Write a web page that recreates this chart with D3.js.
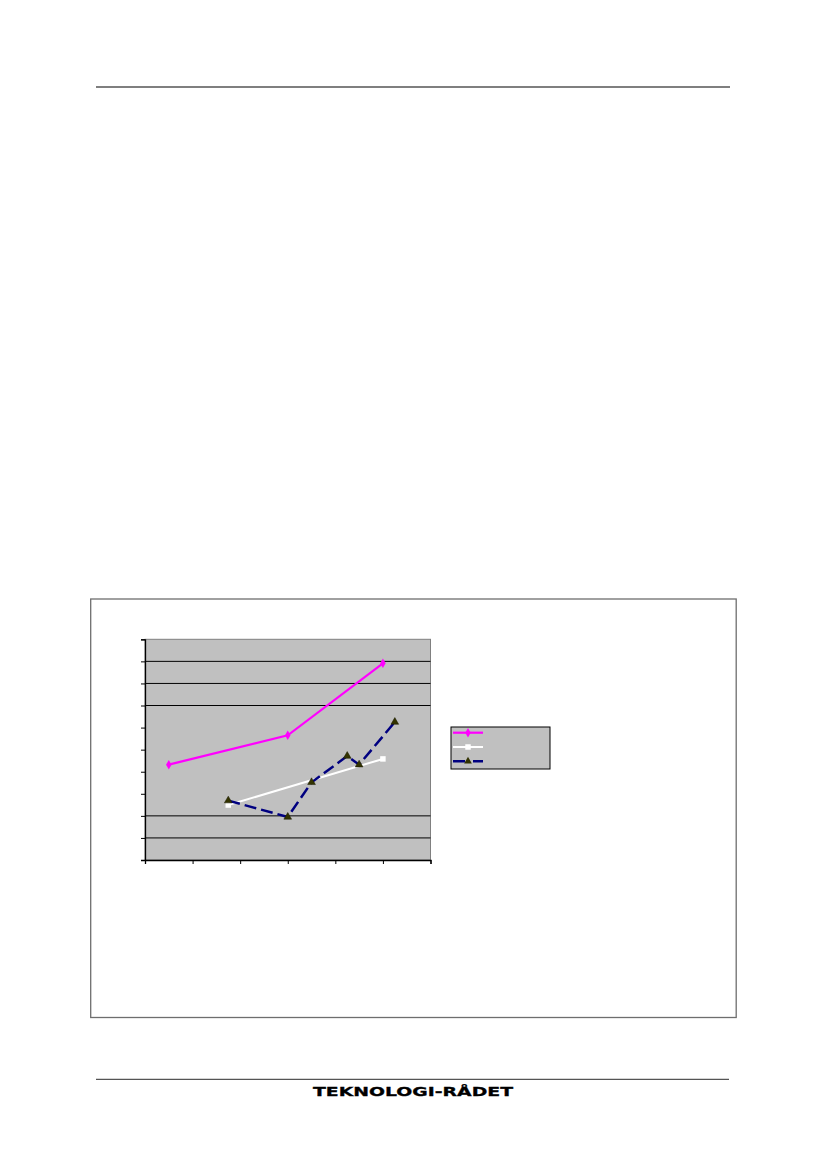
<!DOCTYPE html>
<html><head><meta charset="utf-8">
<script src="https://cdn.jsdelivr.net/npm/d3@7"></script>
<style>html,body{margin:0;padding:0;background:#fff;}svg{display:block;}</style>
</head><body>
<script>
// Data (x positions read as years, y as index values; chart shows no labels)
const seriesNames = ["Series A", "Series B", "Series C"];
const seriesAx = [1997, 2007, 2015];
const seriesAy = [43.2, 56.5, 89.1];
const seriesBx = [2002, 2015];
const seriesBy = [24.9, 45.8];
const seriesCx = [2002, 2007, 2009, 2012, 2013, 2016];
const seriesCy = [26.9, 19.5, 35.2, 47.1, 43.2, 62.5];
const xTicks = [1995, 1999, 2003, 2007, 2011, 2015, 2019];
const yTicks = [0, 10, 20, 30, 40, 50, 60, 70, 80, 90, 100];
const yGrid = [10, 20, 70, 80, 90];
const footerText = "TEKNOLOGI-RÅDET";

const W = 827, H = 1169;
const svg = d3.select("body").append("svg").attr("width", W).attr("height", H);

// page header rule
svg.append("line").attr("x1", 96).attr("x2", 730).attr("y1", 87).attr("y2", 87)
  .attr("stroke", "#000").attr("stroke-width", 1.2);

// chart frame
svg.append("rect").attr("x", 90.7).attr("y", 599).attr("width", 645.5).attr("height", 418.5)
  .attr("fill", "#fff").attr("stroke", "#6e6e6e").attr("stroke-width", 1.3);

const plot = {left: 145, right: 430.5, top: 639.3, bottom: 860};
const x = d3.scaleLinear().domain([1995, 2019]).range([plot.left, plot.right]);
const y = d3.scaleLinear().domain([0, 100]).range([plot.bottom, plot.top]);

// plot area background
svg.append("rect").attr("x", plot.left).attr("y", plot.top)
  .attr("width", plot.right - plot.left).attr("height", plot.bottom - plot.top)
  .attr("fill", "#c0c0c0").attr("stroke", "#808080").attr("stroke-width", 1);

// gridlines
svg.append("g").selectAll("line").data(yGrid).join("line")
  .attr("x1", plot.left).attr("x2", plot.right)
  .attr("y1", d => y(d)).attr("y2", d => y(d))
  .attr("stroke", "#000").attr("stroke-width", 1);

// axes
const yAxis = d3.axisLeft(y).tickValues(yTicks).tickSize(4).tickFormat("");
const gy = svg.append("g").attr("transform", `translate(${plot.left},0)`).call(yAxis);
gy.select(".domain").attr("stroke", "#000").attr("stroke-width", 1.3);
gy.selectAll(".tick line").attr("stroke", "#000");
const xAxis = d3.axisBottom(x).tickValues(xTicks).tickSize(4).tickFormat("");
const gx = svg.append("g").attr("transform", `translate(0,${plot.bottom})`).call(xAxis);
gx.select(".domain").attr("stroke", "#000").attr("stroke-width", 1.3);
gx.selectAll(".tick line").attr("stroke", "#000");

const line = d3.line().x(d => x(d[0])).y(d => y(d[1]));
const A = seriesAx.map((v, i) => [v, seriesAy[i]]);
const B = seriesBx.map((v, i) => [v, seriesBy[i]]);
const C = seriesCx.map((v, i) => [v, seriesCy[i]]);

const diamond = d3.symbol().type(d3.symbolDiamond).size(26);
const square = d3.symbol().type(d3.symbolSquare).size(30);
const tri = d3.symbol().type(d3.symbolTriangle).size(26);

// series A (magenta)
svg.append("path").attr("d", line(A)).attr("fill", "none").attr("stroke", "#ff00ff").attr("stroke-width", 2.2);
svg.append("g").selectAll("path").data(A).join("path")
  .attr("d", diamond).attr("transform", d => `translate(${x(d[0])},${y(d[1])})`).attr("fill", "#ff00ff");

// series B (white)
svg.append("path").attr("d", line(B)).attr("fill", "none").attr("stroke", "#fff").attr("stroke-width", 2);
svg.append("g").selectAll("path").data(B).join("path")
  .attr("d", square).attr("transform", d => `translate(${x(d[0])},${y(d[1])})`).attr("fill", "#fff");

// series C (navy dashed)
svg.append("path").attr("d", line(C)).attr("fill", "none").attr("stroke", "#000080")
  .attr("stroke-width", 2.5).attr("stroke-dasharray", "12,5");
svg.append("g").selectAll("path").data(C).join("path")
  .attr("d", tri).attr("transform", d => `translate(${x(d[0])},${y(d[1])})`)
  .attr("fill", "#333300").attr("stroke", "#1a1a00").attr("stroke-width", 0.5);

// legend
const lg = svg.append("g");
lg.append("rect").attr("x", 451).attr("y", 727).attr("width", 99).attr("height", 42)
  .attr("fill", "#c0c0c0").attr("stroke", "#000").attr("stroke-width", 1);
const legendY = [732.7, 747, 761.3];
const legStyles = [
  {stroke: "#ff00ff", dash: null, sym: diamond, fill: "#ff00ff", w: 2.2},
  {stroke: "#ffffff", dash: null, sym: square, fill: "#ffffff", w: 2},
  {stroke: "#000080", dash: "12,8", sym: tri, fill: "#333300", w: 2.5}
];
seriesNames.forEach((n, i) => {
  const s = legStyles[i];
  lg.append("line").attr("x1", 453).attr("x2", 483).attr("y1", legendY[i]).attr("y2", legendY[i])
    .attr("stroke", s.stroke).attr("stroke-width", s.w).attr("stroke-dasharray", s.dash);
  lg.append("path").attr("d", s.sym).attr("transform", `translate(468,${legendY[i]})`).attr("fill", s.fill);
});

// footer
svg.append("line").attr("x1", 96).attr("x2", 729).attr("y1", 1079.3).attr("y2", 1079.3)
  .attr("stroke", "#555").attr("stroke-width", 1.2);
svg.append("text").attr("x", 313).attr("y", 1095.5)
  .attr("font-family", "DejaVu Sans").attr("font-weight", "bold").attr("font-size", 12)
  .attr("textLength", 200).attr("lengthAdjust", "spacingAndGlyphs")
  .attr("stroke", "#000").attr("stroke-width", 0.3)
  .attr("fill", "#000").text(footerText);
</script>
</body></html>
